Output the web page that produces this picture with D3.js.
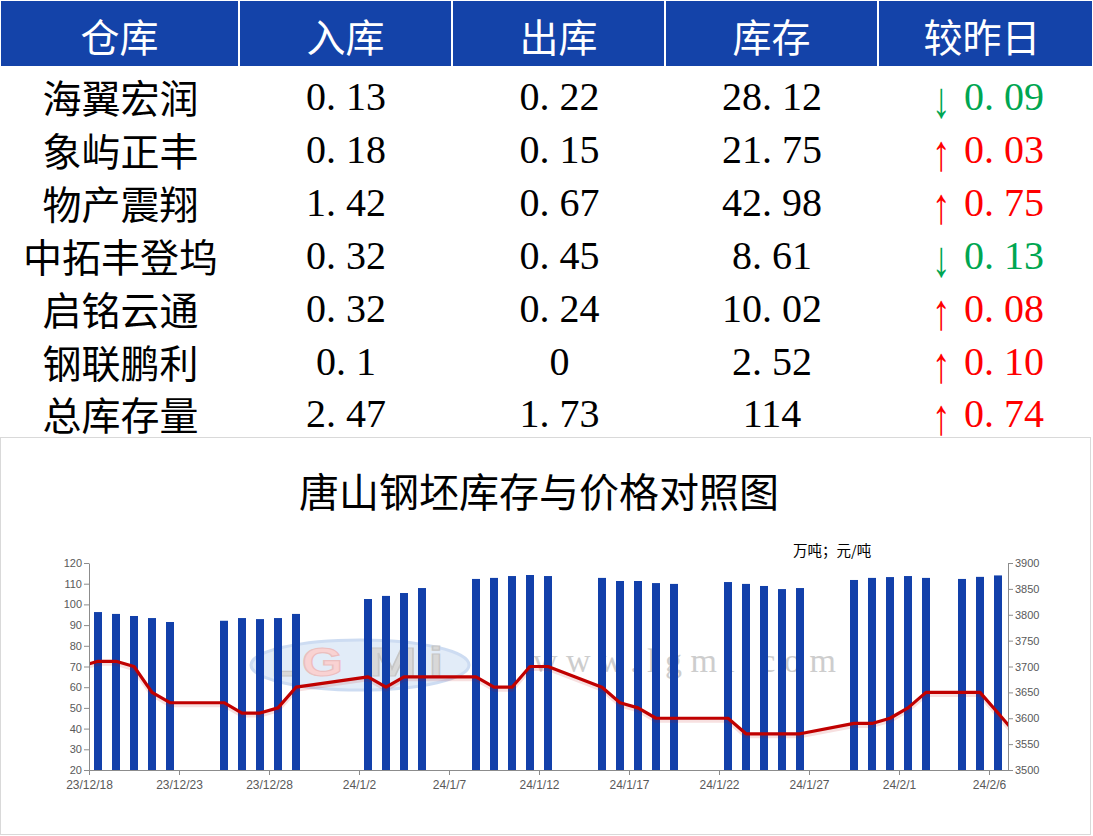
<!DOCTYPE html>
<html>
<head>
<meta charset="utf-8">
<script src="https://cdn.jsdelivr.net/npm/d3@7/dist/d3.min.js"></script>
<style>
  html, body { margin: 0; padding: 0; background: #ffffff; }
  svg { display: block; }
</style>
</head>
<body>
<svg id="chart" width="1093" height="836"></svg>
<script>
// ---------------- DATA ----------------
const headers = ["仓库", "入库", "出库", "库存", "较昨日"];
const warehouses = ["海翼宏润", "象屿正丰", "物产震翔", "中拓丰登坞", "启铭云通", "钢联鹏利", "总库存量"];
const inflow  = [0.13, 0.18, 1.42, 0.32, 0.32, 0.1, 2.47];
const outflow = [0.22, 0.15, 0.67, 0.45, 0.24, 0, 1.73];
const stock   = [28.12, 21.75, 42.98, 8.61, 10.02, 2.52, 114];
const change  = [-0.09, 0.03, 0.75, -0.13, 0.08, 0.10, 0.74];

const chartTitle = "唐山钢坯库存与价格对照图";
const unitLabel = "万吨；元/吨";

const barDates = [
  "2023-12-18","2023-12-19","2023-12-20","2023-12-21","2023-12-22",
  "2023-12-25","2023-12-26","2023-12-27","2023-12-28","2023-12-29",
  "2024-01-02","2024-01-03","2024-01-04","2024-01-05",
  "2024-01-08","2024-01-09","2024-01-10","2024-01-11","2024-01-12",
  "2024-01-15","2024-01-16","2024-01-17","2024-01-18","2024-01-19",
  "2024-01-22","2024-01-23","2024-01-24","2024-01-25","2024-01-26",
  "2024-01-29","2024-01-30","2024-01-31","2024-02-01","2024-02-02",
  "2024-02-04","2024-02-05","2024-02-06"
];
const inventory = [
  96.3, 95.4, 94.4, 93.4, 91.5,
  92.1, 93.4, 92.9, 93.4, 95.4,
  102.6, 104.1, 105.5, 107.9,
  112.3, 112.8, 113.7, 114.2, 113.7,
  112.8, 111.3, 111.3, 110.3, 109.9,
  110.8, 109.9, 108.9, 107.4, 107.9,
  111.8, 112.8, 113.2, 113.7, 112.8,
  112.3, 113.3, 114.0
];

const priceDates = ["2023-12-15"].concat(barDates, ["2024-02-07"]);
const prices = [
  3680,
  3710, 3710, 3700, 3650, 3630,
  3630, 3610, 3610, 3620, 3660,
  3680, 3660, 3680, 3680,
  3680, 3660, 3660, 3700, 3700,
  3660, 3630, 3620, 3600, 3600,
  3600, 3570, 3570, 3570, 3570,
  3590, 3590, 3600, 3620, 3650,
  3650, 3650, 3610,
  3570
];

const xStart = "2023-12-18", xEnd = "2024-02-07";
const xTickDates = ["2023-12-18","2023-12-23","2023-12-28","2024-01-02","2024-01-07","2024-01-12",
                    "2024-01-17","2024-01-22","2024-01-27","2024-02-01","2024-02-06"];
const leftTicks = [20, 30, 40, 50, 60, 70, 80, 90, 100, 110, 120];
const rightTicks = [3500, 3550, 3600, 3650, 3700, 3750, 3800, 3850, 3900];

// ---------------- DRAW ----------------
const svg = d3.select("#chart");
const parse = d3.utcParse("%Y-%m-%d");
const DAY = 864e5;

const CJK = "'Noto Sans CJK SC', sans-serif";
const SERIF = "'Liberation Serif', 'DejaVu Serif', serif";
const SANS = "'Liberation Sans', Arial, sans-serif";

// ---- table ----
const colEdges = [0, 239, 452, 665, 878, 1092];
const colCenters = d3.range(5).map(i => (colEdges[i] + colEdges[i + 1]) / 2);
const blue = "#1443A9";

svg.append("rect").attr("x", 1).attr("y", 1).attr("width", 1091).attr("height", 65).attr("fill", blue);
colEdges.slice(1, 5).forEach(x => {
  svg.append("rect").attr("x", x - 1).attr("y", 1).attr("width", 2).attr("height", 65).attr("fill", "#ffffff");
});
svg.selectAll("text.hdr").data(headers).enter().append("text")
  .attr("class", "hdr")
  .attr("x", (d, i) => colCenters[i] - (i === 4 ? 3 : 0))
  .attr("y", 52)
  .attr("text-anchor", "middle")
  .attr("font-family", CJK)
  .attr("font-size", 39)
  .attr("fill", "#ffffff")
  .text(d => d);

const rowBase = d3.range(warehouses.length).map(i => 110 + i * 52.9);

function numText(g, str, x, y, color) {
  const t = g.append("text")
    .attr("x", x).attr("y", y)
    .attr("text-anchor", "middle")
    .attr("font-family", SERIF)
    .attr("font-size", 40)
    .attr("fill", color);
  const idx = str.indexOf(".");
  if (idx < 0) {
    t.text(str);
  } else {
    t.append("tspan").text(str.slice(0, idx + 1));
    t.append("tspan").attr("dx", 10).text(str.slice(idx + 1));
  }
  return t;
}

const tbl = svg.append("g");
warehouses.forEach((w, i) => {
  tbl.append("text")
    .attr("x", colCenters[0] + 1)
    .attr("y", rowBase[i] + 3)
    .attr("text-anchor", "middle")
    .attr("font-family", CJK)
    .attr("font-size", 39)
    .attr("fill", "#000000")
    .text(w);
  numText(tbl, String(inflow[i]), colCenters[1] + 0.5, rowBase[i], "#000000");
  numText(tbl, String(outflow[i]), colCenters[2] + 1, rowBase[i], "#000000");
  numText(tbl, String(stock[i]), colCenters[3] + 0.5, rowBase[i], "#000000");
  const up = change[i] >= 0;
  const col = up ? "#FF0000" : "#00A651";
  tbl.append("text")
    .attr("transform", `translate(941,${rowBase[i] + 7}) scale(0.85,1.15)`)
    .attr("text-anchor", "middle")
    .attr("font-family", SERIF)
    .attr("font-size", 44)
    .attr("fill", col)
    .text(up ? "↑" : "↓");
  const vStr = Math.abs(change[i]).toFixed(2);
  const t = tbl.append("text")
    .attr("x", 964).attr("y", rowBase[i])
    .attr("text-anchor", "start")
    .attr("font-family", SERIF)
    .attr("font-size", 40)
    .attr("fill", col);
  const idx = vStr.indexOf(".");
  t.append("tspan").text(vStr.slice(0, idx + 1));
  t.append("tspan").attr("dx", 10).text(vStr.slice(idx + 1));
});

// ---- chart frame ----
svg.append("rect").attr("x", 0.5).attr("y", 437.5).attr("width", 1090).attr("height", 397)
  .attr("fill", "none").attr("stroke", "#d9d9d9").attr("stroke-width", 1);

svg.append("text")
  .attr("x", 539).attr("y", 507)
  .attr("text-anchor", "middle")
  .attr("font-family", CJK)
  .attr("font-size", 40)
  .attr("fill", "#000000")
  .text(chartTitle);

svg.append("text")
  .attr("x", 793).attr("y", 556)
  .attr("font-family", CJK)
  .attr("font-size", 14.5)
  .attr("fill", "#000000")
  .text(unitLabel);

// ---- scales ----
const plotL = 89, plotR = 1007, plotT = 563, plotB = 770;
const x = d3.scaleUtc().domain([parse(xStart), parse(xEnd)]).range([plotL, plotR]);
const yL = d3.scaleLinear().domain([20, 120]).range([plotB, plotT]);
const yR = d3.scaleLinear().domain([3500, 3900]).range([plotB, plotT]);
const dayW = x(new Date(parse(xStart).getTime() + DAY)) - x(parse(xStart));

// ---- watermark ----
const wm = svg.append("g").attr("opacity", 0.5);
wm.append("ellipse").attr("cx", 360).attr("cy", 665).attr("rx", 109).attr("ry", 25)
  .attr("fill", "#c7daf2").attr("stroke", "#9dbbe6").attr("stroke-width", 3);
const logoLetters = [
  { ch: "L", x: 272, w: 23, fill: "#b3b3b3", stroke: "#8f8f8f" },
  { ch: "G", x: 302, w: 41, fill: "#f4a6a6", stroke: "#d98080" },
  { ch: "M", x: 367, w: 50, fill: "#b3b3b3", stroke: "#8f8f8f" },
  { ch: "i", x: 429, w: 14, fill: "#b3b3b3", stroke: "#8f8f8f" }
];
logoLetters.forEach(l => {
  wm.append("text").attr("x", l.x).attr("y", 676)
    .attr("font-family", "'Liberation Sans', sans-serif").attr("font-weight", "bold")
    .attr("font-size", 40).attr("stroke-width", 1.2)
    .attr("textLength", l.w).attr("lengthAdjust", "spacingAndGlyphs")
    .attr("fill", l.fill).attr("stroke", l.stroke)
    .text(l.ch);
});
svg.append("text").attr("x", 533).attr("y", 672)
  .attr("font-family", SERIF).attr("font-size", 34).attr("letter-spacing", 8.5)
  .attr("fill", "#bdbdbd").attr("opacity", 0.75)
  .text("www.lgmi.com");

// ---- bars ----
const barW = 8;
svg.append("g").selectAll("rect").data(barDates.map((d, i) => ({ d: parse(d), v: inventory[i] })))
  .enter().append("rect")
  .attr("x", p => x(p.d) + dayW / 2 - barW / 2)
  .attr("y", p => yL(p.v))
  .attr("width", barW)
  .attr("height", p => yL(20) - yL(p.v))
  .attr("fill", "#1240AA");

// ---- price line ----
svg.append("clipPath").attr("id", "plotclip").append("rect")
  .attr("x", plotL).attr("y", plotT - 20).attr("width", plotR - plotL + 1).attr("height", plotB - plotT + 40);
const pts = priceDates.map((d, i) => ({ d: parse(d), v: prices[i] }));
const line = d3.line().x(p => x(p.d) + dayW / 2).y(p => yR(p.v));
const lg = svg.append("g").attr("clip-path", "url(#plotclip)");
lg.append("path").datum(pts).attr("d", line)
  .attr("fill", "none").attr("stroke", "#C00000").attr("stroke-opacity", 0.12)
  .attr("stroke-width", 5).attr("stroke-linejoin", "round").attr("transform", "translate(0,2)");
lg.append("path").datum(pts).attr("d", line)
  .attr("fill", "none").attr("stroke", "#C00000").attr("stroke-width", 3.2)
  .attr("stroke-linejoin", "round");

// ---- axes ----
const axisColor = "#8c8c8c", labelColor = "#595959";
function styleAxis(g, fs) {
  g.select(".domain").attr("stroke", axisColor);
  g.selectAll(".tick line").attr("stroke", axisColor);
  g.selectAll(".tick text").attr("fill", labelColor).attr("font-family", SANS).attr("font-size", fs);
}
const gL = svg.append("g").attr("transform", `translate(${plotL},0)`)
  .call(d3.axisLeft(yL).tickValues(leftTicks).tickFormat(d3.format("d")).tickSize(5).tickSizeOuter(0).tickPadding(2));
styleAxis(gL, 11);
const gR = svg.append("g").attr("transform", `translate(${plotR + 1},0)`)
  .call(d3.axisRight(yR).tickValues(rightTicks).tickFormat(d3.format("d")).tickSize(5).tickSizeOuter(0).tickPadding(2));
styleAxis(gR, 11);
const gX = svg.append("g").attr("transform", `translate(0,${plotB})`)
  .call(d3.axisBottom(x).tickValues(xTickDates.map(parse)).tickFormat(d3.utcFormat("%y/%-m/%-d"))
    .tickSize(5).tickSizeOuter(0).tickPadding(5));
gX.select(".domain").attr("d", `M${plotL},0.5H${plotR + 1}`);
styleAxis(gX, 12);
gL.attr("font-family", null); gR.attr("font-family", null); gX.attr("font-family", null);
</script>
</body>
</html>
